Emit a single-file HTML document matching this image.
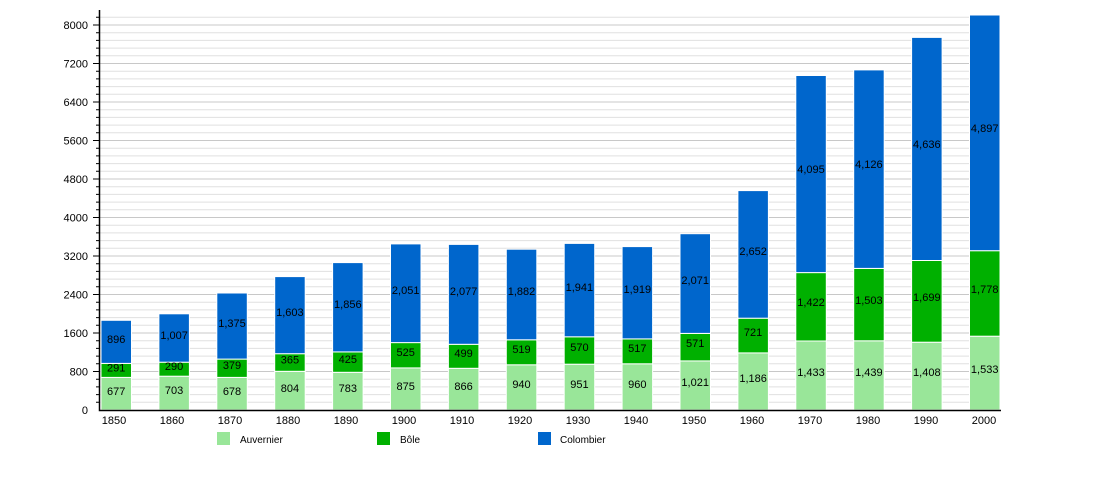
<!DOCTYPE html>
<html><head><meta charset="utf-8"><style>
html,body{margin:0;padding:0;background:#fff}
svg{display:block;font-family:"Liberation Sans",sans-serif}
</style></head><body>
<svg width="1100" height="500" viewBox="0 0 1100 500">
<path stroke="#e0e0e0" stroke-width="1" fill="none" d="M100 402.3H1000M100 394.6H1000M100 386.9H1000M100 379.2H1000M100 363.8H1000M100 356.1H1000M100 348.4H1000M100 340.7H1000M100 325.3H1000M100 317.6H1000M100 309.9H1000M100 302.2H1000M100 286.8H1000M100 279.1H1000M100 271.4H1000M100 263.7H1000M100 248.3H1000M100 240.6H1000M100 232.9H1000M100 225.2H1000M100 209.8H1000M100 202.1H1000M100 194.4H1000M100 186.7H1000M100 171.3H1000M100 163.6H1000M100 155.9H1000M100 148.2H1000M100 132.8H1000M100 125.1H1000M100 117.4H1000M100 109.7H1000M100 94.3H1000M100 86.6H1000M100 78.9H1000M100 71.2H1000M100 55.8H1000M100 48.1H1000M100 40.4H1000M100 32.7H1000M100 17.3H1000"/>
<path stroke="#c8c8c8" stroke-width="1" fill="none" d="M100 371.5H1000M100 333H1000M100 294.5H1000M100 256H1000M100 217.5H1000M100 179H1000M100 140.5H1000M100 102H1000M100 63.5H1000M100 25H1000"/>
<path stroke="#000" stroke-width="1" fill="none" d="M96 402.3H100M96 394.6H100M96 386.9H100M96 379.2H100M93 371.5H100M96 363.8H100M96 356.1H100M96 348.4H100M96 340.7H100M93 333H100M96 325.3H100M96 317.6H100M96 309.9H100M96 302.2H100M93 294.5H100M96 286.8H100M96 279.1H100M96 271.4H100M96 263.7H100M93 256H100M96 248.3H100M96 240.6H100M96 232.9H100M96 225.2H100M93 217.5H100M96 209.8H100M96 202.1H100M96 194.4H100M96 186.7H100M93 179H100M96 171.3H100M96 163.6H100M96 155.9H100M96 148.2H100M93 140.5H100M96 132.8H100M96 125.1H100M96 117.4H100M96 109.7H100M93 102H100M96 94.3H100M96 86.6H100M96 78.9H100M96 71.2H100M93 63.5H100M96 55.8H100M96 48.1H100M96 40.4H100M96 32.7H100M93 25H100M96 17.3H100"/>
<g font-size="11" fill="#000" text-anchor="end">
<text x="88" y="414">0</text><text x="88" y="375.5">800</text><text x="88" y="337">1600</text><text x="88" y="298.5">2400</text><text x="88" y="260">3200</text><text x="88" y="221.5">4000</text><text x="88" y="183">4800</text><text x="88" y="144.5">5600</text><text x="88" y="106">6400</text><text x="88" y="67.5">7200</text><text x="88" y="29">8000</text>
</g>
<g stroke="#fff" stroke-width="1">
<rect x="101" y="377.4" width="30.5" height="32.6" fill="#99e699"/><rect x="101" y="363.4" width="30.5" height="14" fill="#00b000"/><rect x="101" y="320.3" width="30.5" height="43.1" fill="#0066cc"/>
<rect x="158.9" y="376.2" width="30.5" height="33.8" fill="#99e699"/><rect x="158.9" y="362.2" width="30.5" height="14" fill="#00b000"/><rect x="158.9" y="313.8" width="30.5" height="48.4" fill="#0066cc"/>
<rect x="216.8" y="377.4" width="30.5" height="32.6" fill="#99e699"/><rect x="216.8" y="359.1" width="30.5" height="18.3" fill="#00b000"/><rect x="216.8" y="293" width="30.5" height="66.1" fill="#0066cc"/>
<rect x="274.7" y="371.3" width="30.5" height="38.7" fill="#99e699"/><rect x="274.7" y="353.7" width="30.5" height="17.6" fill="#00b000"/><rect x="274.7" y="276.6" width="30.5" height="77.1" fill="#0066cc"/>
<rect x="332.6" y="372.3" width="30.5" height="37.7" fill="#99e699"/><rect x="332.6" y="351.9" width="30.5" height="20.4" fill="#00b000"/><rect x="332.6" y="262.6" width="30.5" height="89.3" fill="#0066cc"/>
<rect x="390.5" y="367.9" width="30.5" height="42.1" fill="#99e699"/><rect x="390.5" y="342.6" width="30.5" height="25.3" fill="#00b000"/><rect x="390.5" y="243.9" width="30.5" height="98.7" fill="#0066cc"/>
<rect x="448.4" y="368.3" width="30.5" height="41.7" fill="#99e699"/><rect x="448.4" y="344.3" width="30.5" height="24" fill="#00b000"/><rect x="448.4" y="244.4" width="30.5" height="99.9" fill="#0066cc"/>
<rect x="506.3" y="364.8" width="30.5" height="45.2" fill="#99e699"/><rect x="506.3" y="339.8" width="30.5" height="25" fill="#00b000"/><rect x="506.3" y="249.2" width="30.5" height="90.6" fill="#0066cc"/>
<rect x="564.2" y="364.2" width="30.5" height="45.8" fill="#99e699"/><rect x="564.2" y="336.8" width="30.5" height="27.4" fill="#00b000"/><rect x="564.2" y="243.4" width="30.5" height="93.4" fill="#0066cc"/>
<rect x="622.1" y="363.8" width="30.5" height="46.2" fill="#99e699"/><rect x="622.1" y="338.9" width="30.5" height="24.9" fill="#00b000"/><rect x="622.1" y="246.6" width="30.5" height="92.3" fill="#0066cc"/>
<rect x="680" y="360.9" width="30.5" height="49.1" fill="#99e699"/><rect x="680" y="333.4" width="30.5" height="27.5" fill="#00b000"/><rect x="680" y="233.7" width="30.5" height="99.7" fill="#0066cc"/>
<rect x="737.9" y="352.9" width="30.5" height="57.1" fill="#99e699"/><rect x="737.9" y="318.2" width="30.5" height="34.7" fill="#00b000"/><rect x="737.9" y="190.6" width="30.5" height="127.6" fill="#0066cc"/>
<rect x="795.8" y="341" width="30.5" height="69" fill="#99e699"/><rect x="795.8" y="272.6" width="30.5" height="68.4" fill="#00b000"/><rect x="795.8" y="75.5" width="30.5" height="197.1" fill="#0066cc"/>
<rect x="853.7" y="340.8" width="30.5" height="69.2" fill="#99e699"/><rect x="853.7" y="268.4" width="30.5" height="72.4" fill="#00b000"/><rect x="853.7" y="69.9" width="30.5" height="198.5" fill="#0066cc"/>
<rect x="911.6" y="342.2" width="30.5" height="67.8" fill="#99e699"/><rect x="911.6" y="260.5" width="30.5" height="81.7" fill="#00b000"/><rect x="911.6" y="37.4" width="30.5" height="223.1" fill="#0066cc"/>
<rect x="969.5" y="336.2" width="30.5" height="73.8" fill="#99e699"/><rect x="969.5" y="250.7" width="30.5" height="85.5" fill="#00b000"/><rect x="969.5" y="15" width="30.5" height="235.7" fill="#0066cc"/>
</g>
<path stroke="#000" stroke-width="1.5" fill="none" d="M99.5 10V410.5H1001"/>
<g font-size="11" fill="#000" text-anchor="middle">
<text x="116.2" y="395">677</text><text x="116.2" y="371.5">291</text><text x="116.2" y="343">896</text>
<text x="174.1" y="394">703</text><text x="174.1" y="370">290</text><text x="174.1" y="339">1,007</text>
<text x="232" y="395">678</text><text x="232" y="369">379</text><text x="232" y="327">1,375</text>
<text x="289.9" y="392">804</text><text x="289.9" y="363.5">365</text><text x="289.9" y="316">1,603</text>
<text x="347.8" y="392">783</text><text x="347.8" y="363">425</text><text x="347.8" y="308">1,856</text>
<text x="405.7" y="390">875</text><text x="405.7" y="356">525</text><text x="405.7" y="294">2,051</text>
<text x="463.6" y="390">866</text><text x="463.6" y="357">499</text><text x="463.6" y="295">2,077</text>
<text x="521.5" y="388">940</text><text x="521.5" y="353">519</text><text x="521.5" y="295">1,882</text>
<text x="579.4" y="388">951</text><text x="579.4" y="351">570</text><text x="579.4" y="291">1,941</text>
<text x="637.3" y="388">960</text><text x="637.3" y="352">517</text><text x="637.3" y="293">1,919</text>
<text x="695.2" y="386">1,021</text><text x="695.2" y="347">571</text><text x="695.2" y="284">2,071</text>
<text x="753.1" y="382">1,186</text><text x="753.1" y="336">721</text><text x="753.1" y="255">2,652</text>
<text x="811" y="376">1,433</text><text x="811" y="306">1,422</text><text x="811" y="173">4,095</text>
<text x="868.9" y="376">1,439</text><text x="868.9" y="304">1,503</text><text x="868.9" y="168">4,126</text>
<text x="926.8" y="376">1,408</text><text x="926.8" y="301">1,699</text><text x="926.8" y="148">4,636</text>
<text x="984.7" y="373">1,533</text><text x="984.7" y="293">1,778</text><text x="984.7" y="132">4,897</text>
</g>
<g font-size="11" fill="#000" text-anchor="middle">
<text x="114" y="424">1850</text><text x="172" y="424">1860</text><text x="230" y="424">1870</text><text x="288" y="424">1880</text><text x="346" y="424">1890</text><text x="404" y="424">1900</text><text x="462" y="424">1910</text><text x="520" y="424">1920</text><text x="578" y="424">1930</text><text x="636" y="424">1940</text><text x="694" y="424">1950</text><text x="752" y="424">1960</text><text x="810" y="424">1970</text><text x="868" y="424">1980</text><text x="926" y="424">1990</text><text x="984" y="424">2000</text>
</g>
<rect x="217" y="432" width="13" height="13" fill="#99e699"/><text x="240" y="443" font-size="10">Auvernier</text>
<rect x="377" y="432" width="13" height="13" fill="#00b000"/><text x="400" y="443" font-size="10">Bôle</text>
<rect x="538" y="432" width="13" height="13" fill="#0066cc"/><text x="560" y="443" font-size="10">Colombier</text>
</svg>
</body></html>
